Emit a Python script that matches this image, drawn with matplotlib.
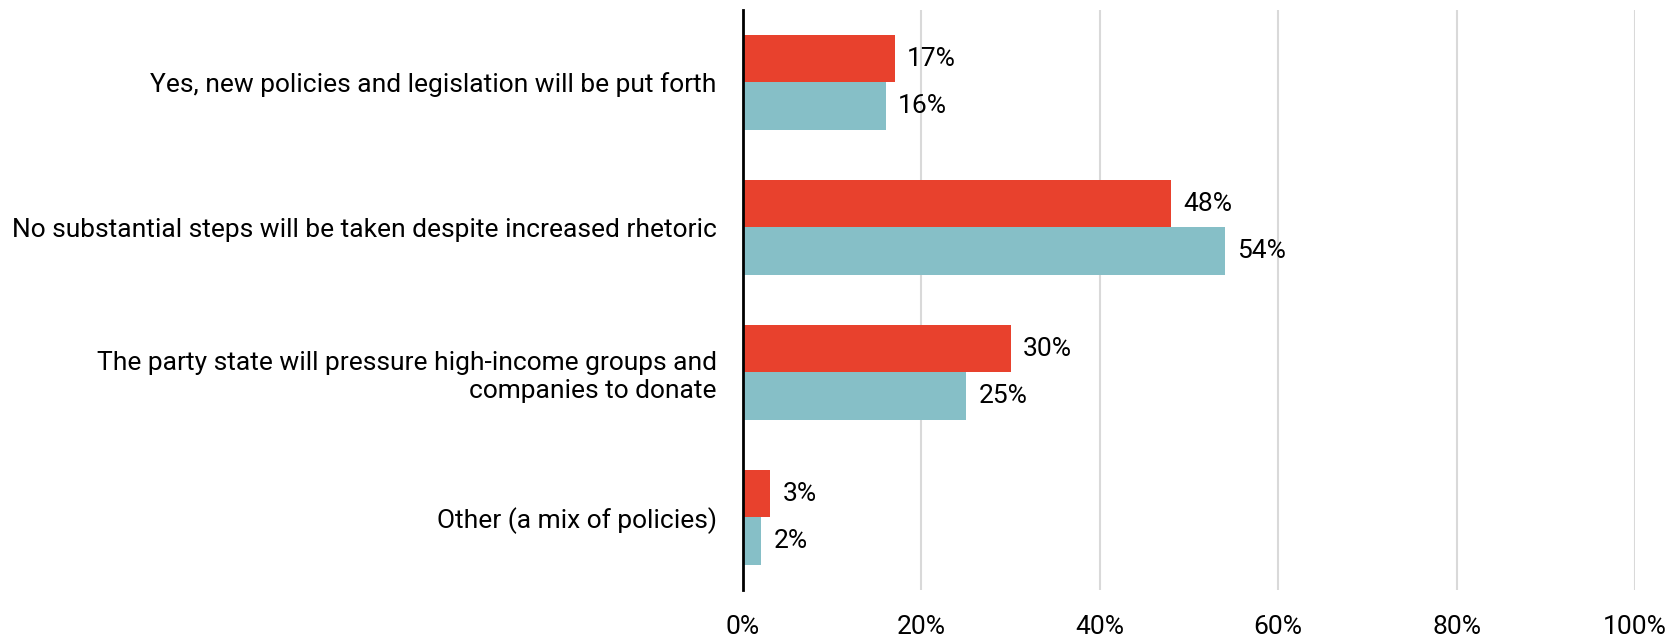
import numpy as np
import matplotlib.pyplot as plt

plt.rcParams['font.family'] = ['Roboto', 'DejaVu Sans']

# Survey answers (top to bottom)
categories = [
    "Yes, new policies and legislation will be put forth",
    "No substantial steps will be taken despite increased rhetoric",
    "The party state will pressure high-income groups and\ncompanies to donate",
    "Other (a mix of policies)",
]
red_values = [17, 48, 30, 3]
teal_values = [16, 54, 25, 2]
xticks = [0, 20, 40, 60, 80, 100]

red = '#E8412D'
teal = '#86BFC7'

fig = plt.figure(figsize=(16.72, 6.39), dpi=100)
ax = fig.add_axes([0.4444, 0.0767, 0.5335, 0.9077])

y = np.arange(len(categories))
h = 0.33
ax.barh(y - h / 2, red_values, height=h, color=red, zorder=3)
ax.barh(y + h / 2, teal_values, height=h, color=teal, zorder=3)

for yi, v in zip(y, red_values):
    ax.text(v + 1.4, yi - h / 2, f"{v}%", va='center', ha='left', fontsize=19)
for yi, v in zip(y, teal_values):
    ax.text(v + 1.4, yi + h / 2, f"{v}%", va='center', ha='left', fontsize=19)

ax.set_xlim(0, 100)
ax.set_ylim(len(categories) - 0.5, -0.5)
ax.set_yticks(y)
ax.set_yticklabels(categories, fontsize=19, ha='right')
ax.set_xticks(xticks)
ax.set_xticklabels([f"{t}%" for t in xticks], fontsize=19)
ax.tick_params(axis='y', length=0, pad=19)
ax.tick_params(axis='x', length=0, pad=18)

ax.grid(axis='x', color='#D9D9D9', linewidth=1.5, zorder=0)
for s in ['top', 'right', 'bottom']:
    ax.spines[s].set_visible(False)
ax.spines['left'].set_linewidth(2)
ax.spines['left'].set_color('black')
ax.spines['left'].set_zorder(4)

fig.savefig('out.png', dpi=100)
